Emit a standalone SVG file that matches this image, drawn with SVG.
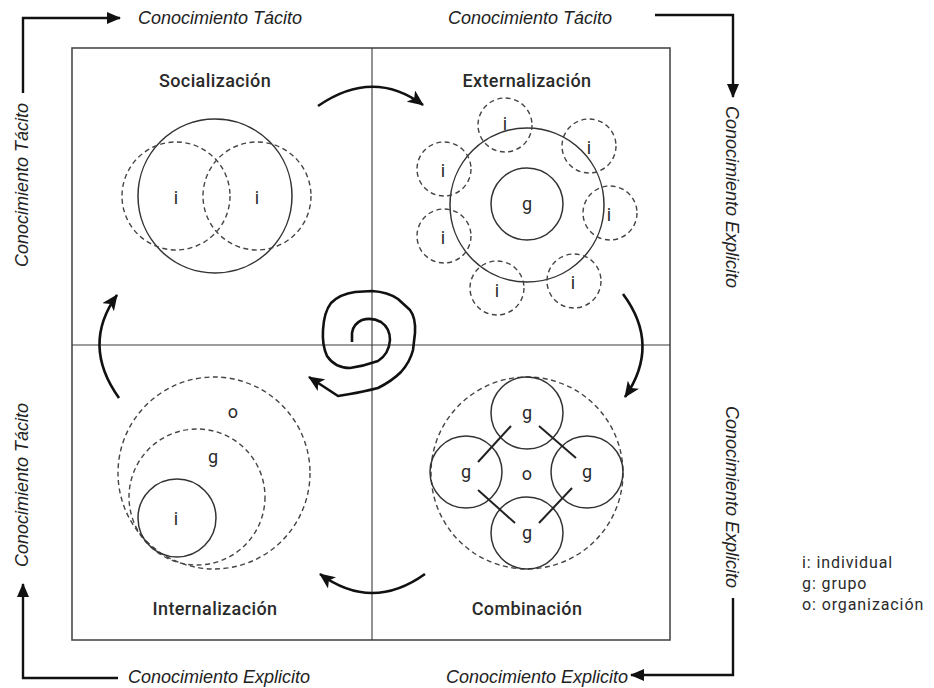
<svg xmlns="http://www.w3.org/2000/svg" width="934" height="688" viewBox="0 0 934 688">
<style>
.bg{fill:#fff}
.frame{fill:none;stroke:#4a4a4a;stroke-width:1.6}
.axis{fill:none;stroke:#3a3a3a;stroke-width:1.1}
.solid{fill:none;stroke:#333;stroke-width:1.5}
.dash{fill:none;stroke:#444;stroke-width:1.4;stroke-dasharray:5 3.5}
.link{fill:none;stroke:#222;stroke-width:2}
.conn{fill:none;stroke:#111;stroke-width:2.4}
.flow{fill:none;stroke:#111;stroke-width:2.6}
.ital{font-family:"Liberation Sans",Arial,sans-serif;font-style:italic;font-size:18px;fill:#222}
.title{font-family:Roboto,"DejaVu Sans",sans-serif;font-weight:500;font-size:18px;letter-spacing:0.4px;fill:#2a2a2a;text-anchor:middle}
.lbl{font-family:Roboto,"DejaVu Sans",sans-serif;font-size:18px;fill:#2a2a2a;text-anchor:middle;dominant-baseline:central}
.legend{font-family:Roboto,"DejaVu Sans",sans-serif;font-size:16px;fill:#2a2a2a;letter-spacing:0.9px}
</style>
<defs>
<marker id="ah" markerUnits="userSpaceOnUse" markerWidth="14" markerHeight="12" refX="13" refY="6" orient="auto">
<path d="M0,0 L14,6 L0,12 z" fill="#111"/>
</marker>
<marker id="ah2" markerUnits="userSpaceOnUse" markerWidth="16" markerHeight="14" refX="15" refY="7" orient="auto">
<path d="M0,0 L16,7 L0,14 L4,7 z" fill="#111"/>
</marker>
</defs>
<rect class="bg" x="0" y="0" width="934" height="688"/>

<g id="frame">
<rect class="frame" x="72" y="48" width="598" height="592"/>
<line class="axis" x1="372" y1="48" x2="372" y2="640"/>
<line class="axis" x1="72" y1="345" x2="670" y2="345"/>
</g>

<g id="socializacion">
<text class="title" x="215" y="87">Socialización</text>
<circle class="solid" cx="215" cy="196" r="77"/>
<circle class="dash" cx="176" cy="196" r="54"/>
<circle class="dash" cx="257" cy="196" r="54"/>
<text class="lbl" x="176" y="197">i</text>
<text class="lbl" x="257" y="197">i</text>
</g>

<g id="externalizacion">
<text class="title" x="527" y="87">Externalización</text>
<circle class="solid" cx="527" cy="205" r="77"/>
<circle class="solid" cx="527" cy="204" r="36"/>
<text class="lbl" x="527" y="203">g</text>
<circle class="dash" cx="505" cy="125" r="27"/>
<circle class="dash" cx="589" cy="146" r="27"/>
<circle class="dash" cx="610" cy="213" r="27"/>
<circle class="dash" cx="574" cy="281" r="27"/>
<circle class="dash" cx="497" cy="288" r="27"/>
<circle class="dash" cx="444" cy="236" r="27"/>
<circle class="dash" cx="444" cy="169" r="27"/>
<text class="lbl" x="505" y="123">i</text>
<text class="lbl" x="589" y="147">i</text>
<text class="lbl" x="609" y="214">i</text>
<text class="lbl" x="573" y="282">i</text>
<text class="lbl" x="497" y="290">i</text>
<text class="lbl" x="443" y="237">i</text>
<text class="lbl" x="443" y="170">i</text>
</g>

<g id="internalizacion">
<text class="title" x="215" y="615">Internalización</text>
<circle class="dash" cx="214" cy="473" r="96"/>
<circle class="dash" cx="197" cy="497" r="68"/>
<circle class="solid" cx="177" cy="518" r="39"/>
<text class="lbl" x="233" y="411">o</text>
<text class="lbl" x="213" y="456">g</text>
<text class="lbl" x="176" y="518">i</text>
</g>

<g id="combinacion">
<text class="title" x="527" y="615">Combinación</text>
<circle class="dash" cx="527" cy="473" r="96"/>
<circle class="solid" cx="527" cy="413" r="36"/>
<circle class="solid" cx="466" cy="472" r="36"/>
<circle class="solid" cx="587" cy="472" r="36"/>
<circle class="solid" cx="527" cy="533" r="36"/>
<line class="link" x1="478" y1="462" x2="511" y2="426"/>
<line class="link" x1="539" y1="426" x2="576" y2="458"/>
<line class="link" x1="478" y1="490" x2="515" y2="523"/>
<line class="link" x1="539" y1="523" x2="572" y2="488"/>
<text class="lbl" x="527" y="412">g</text>
<text class="lbl" x="466" y="471">g</text>
<text class="lbl" x="587" y="471">g</text>
<text class="lbl" x="527" y="532">g</text>
<text class="lbl" x="527" y="473">o</text>
</g>

<g id="axis-labels">
<text class="ital" x="138" y="24">Conocimiento Tácito</text>
<text class="ital" x="448" y="24">Conocimiento Tácito</text>
<text class="ital" x="128" y="683">Conocimiento Explicito</text>
<text class="ital" x="446" y="683">Conocimiento Explicito</text>
<text class="ital" text-anchor="middle" transform="translate(28,185) rotate(-90)">Conocimiento Tácito</text>
<text class="ital" text-anchor="middle" transform="translate(28,485) rotate(-90)">Conocimiento Tácito</text>
<text class="ital" text-anchor="middle" transform="translate(726,197) rotate(90)">Conocimiento Explicito</text>
<text class="ital" text-anchor="middle" transform="translate(726,497) rotate(90)">Conocimiento Explicito</text>
</g>

<g id="legend">
<text class="legend" x="802" y="568">i: individual</text>
<text class="legend" x="802" y="589">g: grupo</text>
<text class="legend" x="802" y="610">o: organización</text>
</g>

<g id="connectors">
<path class="conn" d="M23,93 V18 H120" marker-end="url(#ah)"/>
<path class="conn" d="M655,15 H733 V97" marker-end="url(#ah)"/>
<path class="conn" d="M733,598 V675 H631" marker-end="url(#ah)"/>
<path class="conn" d="M118,678 H23 V584" marker-end="url(#ah)"/>
<path class="flow" d="M318,106 Q373,68 423,105" marker-end="url(#ah2)"/>
<path class="flow" d="M623,294 Q661,345 625,397" marker-end="url(#ah2)"/>
<path class="flow" d="M425,574 Q372,612 320,574" marker-end="url(#ah2)"/>
<path class="flow" d="M119,398 Q81,345 117,295" marker-end="url(#ah2)"/>
<path class="flow" stroke-linejoin="round" d="M352,342 L352,333 Q353,324 362,320 Q372,317 381,322 Q390,328 390,340 Q389,354 378,361 Q364,366 350,368 Q335,368 327,356 Q322,345 323,330 Q324,312 331,303 Q340,294 355,292 L372,291 Q388,292 398,299 L410,310 Q416,318 415,333 L413,350 Q410,362 401,372 Q392,381 378,388 Q362,392 350,394 L338,396 L309,377" marker-end="url(#ah2)"/>
</g>
</svg>
